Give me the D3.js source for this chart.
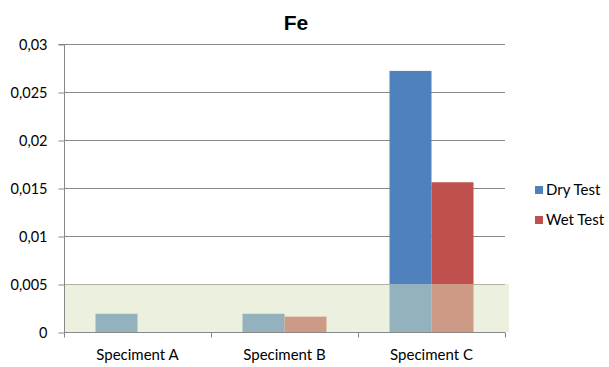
<!DOCTYPE html>
<html>
<head>
<meta charset="utf-8">
<script src="https://cdn.jsdelivr.net/npm/d3@7/dist/d3.min.js"></script>
<style>
  html, body { margin: 0; padding: 0; background: #fff; }
  svg { display: block; }
  text { font-family: Lato, "Open Sans", "Liberation Sans", sans-serif; fill: #000; }
</style>
</head>
<body>
<svg id="chart" width="609" height="367"></svg>
<script>
// Fe content per specimen, dry vs wet test
const categories = ["Speciment A", "Speciment B", "Speciment C"];
const seriesNames = ["Dry Test", "Wet Test"];
const dryValues = [0.0019, 0.0019, 0.0272];
const wetValues = [0, 0.0016, 0.0156];
const yTicks = [0, 0.005, 0.01, 0.015, 0.02, 0.025, 0.03];
const yTickLabels = ["0", "0,005", "0,01", "0,015", "0,02", "0,025", "0,03"];
const bandRange = [0, 0.005];
const colors = ["#4f81bd", "#c0504d"];

const svg = d3.select("#chart");
const margin = { left: 64, right: 104, top: 44, bottom: 35 };
const W = 609, H = 367;
const x0 = margin.left, x1 = W - margin.right;
const yTop = margin.top, yBot = H - margin.bottom;

const x = d3.scaleBand().domain(categories).range([x0, x1]).paddingInner(0).paddingOuter(0);
const inner = d3.scaleBand().domain(seriesNames)
  .range([0, x.bandwidth()]).paddingOuter(0.75).paddingInner(0);
const y = d3.scaleLinear().domain([0, 0.03]).range([yBot, yTop]);

// title
svg.append("text").attr("x", 296).attr("y", 30).attr("text-anchor", "middle")
  .style("font-family", "'Liberation Sans', Arial, sans-serif")
  .style("font-weight", "bold").style("font-size", "21px").text("Fe");

// gridlines
svg.append("g").selectAll("line").data(yTicks.filter(d => d > 0)).join("line")
  .attr("x1", x0).attr("x2", x1)
  .attr("y1", d => y(d) + 0.5).attr("y2", d => y(d) + 0.5)
  .attr("stroke", "#878787").attr("stroke-width", 1);

// bars
const data = categories.map((c, i) => ({ cat: c, vals: [dryValues[i], wetValues[i]] }));
const g = svg.append("g");
data.forEach(d => {
  d.vals.forEach((v, j) => {
    if (v <= 0) return;
    g.append("rect")
      .attr("x", x(d.cat) + inner(seriesNames[j]))
      .attr("width", inner.bandwidth())
      .attr("y", y(v))
      .attr("height", y(0) - y(v))
      .attr("fill", colors[j]);
  });
});

// highlighted band 0 - 0.005
svg.append("rect")
  .attr("x", x0).attr("width", x1 - x0 + 4)
  .attr("y", y(bandRange[1])).attr("height", y(bandRange[0]) - y(bandRange[1]))
  .attr("fill", "rgb(217,228,191)").attr("fill-opacity", 0.5);

// y axis
const yAxis = d3.axisLeft(y).tickValues(yTicks)
  .tickFormat((d, i) => yTickLabels[i]).tickSize(6).tickPadding(11);
const ya = svg.append("g").attr("transform", `translate(${x0 + 0.5},0.5)`).call(yAxis);
ya.select(".domain").attr("stroke", "#878787").attr("d", `M-6,${yTop}H0V${yBot}`);
ya.selectAll(".tick line").attr("stroke", "#878787");
ya.selectAll(".tick text").style("font-size", "14.5px").attr("fill", "#000");

// x axis
const xAxis = d3.axisBottom(x).tickSize(0).tickPadding(17);
const xa = svg.append("g").attr("transform", `translate(0,${yBot + 0.5})`).call(xAxis);
xa.select(".domain").attr("stroke", "#878787").attr("d", `M${x0},0H${x1}`);
xa.selectAll(".tick text").style("font-size", "15px").attr("fill", "#000");
// category boundary ticks
xa.append("g").selectAll("line").data(d3.range(categories.length + 1)).join("line")
  .attr("x1", i => Math.round(x0 + i * x.bandwidth()) + 0.5)
  .attr("x2", i => Math.round(x0 + i * x.bandwidth()) + 0.5)
  .attr("y1", 0).attr("y2", 5).attr("stroke", "#878787");

// legend
const leg = svg.append("g").attr("transform", "translate(535,186)");
seriesNames.forEach((s, i) => {
  leg.append("rect").attr("x", 0).attr("y", i * 30).attr("width", 8).attr("height", 8)
    .attr("fill", colors[i]);
  leg.append("text").attr("x", 11).attr("y", i * 30 + 9).style("font-size", "15px").text(s);
});
</script>
</body>
</html>
